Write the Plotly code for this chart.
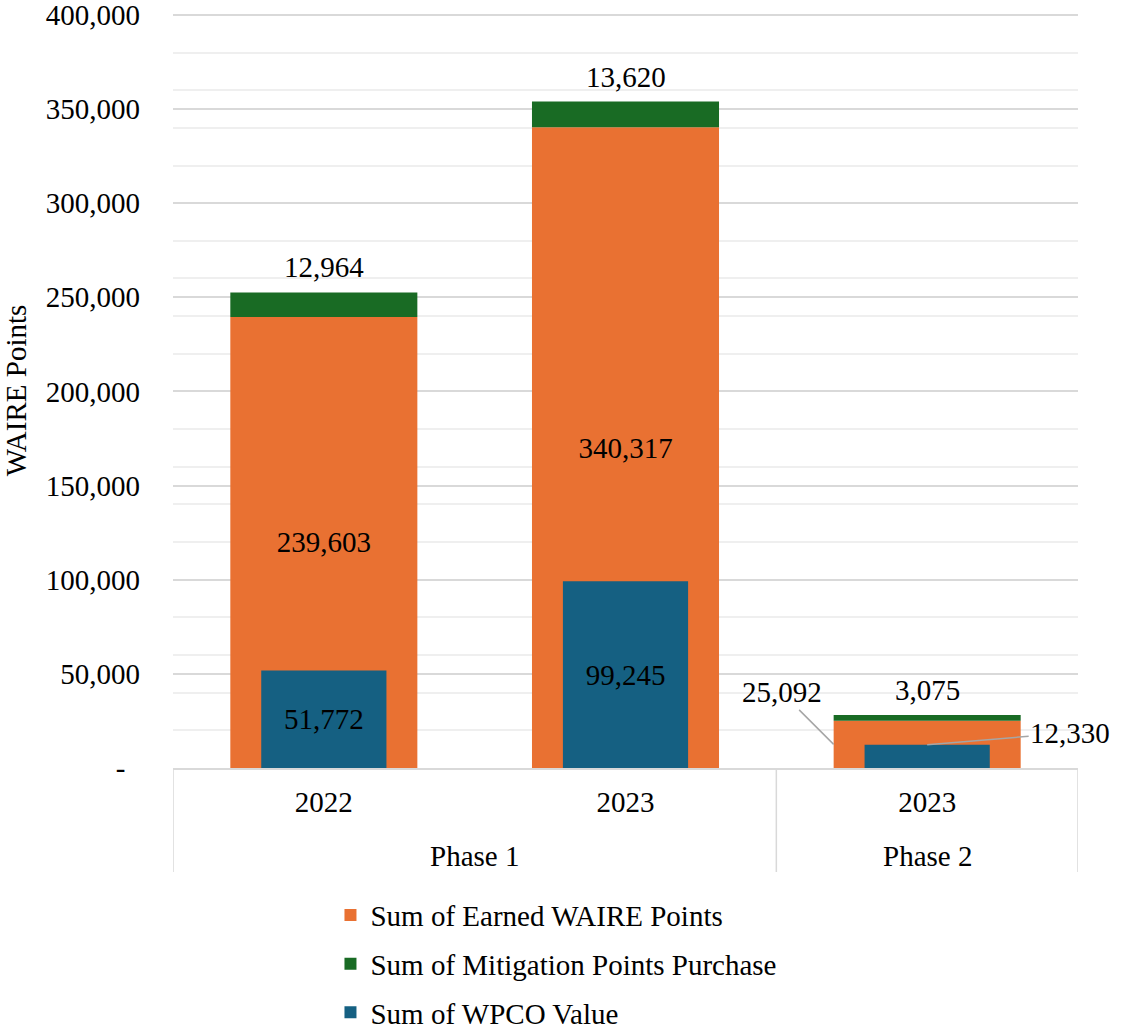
import plotly.graph_objects as go

phases = ["Phase 1", "Phase 1", "Phase 2"]
years = ["2022", "2023", "2023"]
earned = [239603, 340317, 25092]
mitigation = [12964, 13620, 3075]
wpco = [51772, 99245, 12330]
ytick_vals = [0, 50000, 100000, 150000, 200000, 250000, 300000, 350000, 400000]
ytick_text = ["-\u00a0\u00a0"] + [f"{v:,}" for v in ytick_vals[1:]]

ORANGE = "#E97132"
GREEN = "#196B24"
BLUE = "#156082"
GRID = "#D9D9D9"
FONT = "Liberation Serif"
FS = 29
BAR_W = 0.62
BLUE_W = 0.415

cats = [f"{p} | {y}" for p, y in zip(phases, years)]
n = len(cats)
TXT = dict(family=FONT, size=FS, color="black")

fig = go.Figure()
fig.add_trace(go.Bar(
    x=cats, y=earned, width=BAR_W, name="Sum of Earned WAIRE Points",
    marker=dict(color=ORANGE, line=dict(width=0)),
    text=[f"{v:,}" for v in earned[:2]] + [""],
    textposition="inside", insidetextanchor="middle",
    textfont=TXT, constraintext="none", legendgroup="a",
))
fig.add_trace(go.Bar(
    x=cats, y=mitigation, base=earned, width=BAR_W, name="Sum of Mitigation Points Purchase",
    marker=dict(color=GREEN, line=dict(width=0)),
    legendgroup="b",
))
fig.add_trace(go.Bar(
    x=cats, y=wpco, width=BLUE_W, name="Sum of WPCO Value",
    marker=dict(color=BLUE, line=dict(width=0)),
    text=[f"{v:,}" for v in wpco[:2]] + [""],
    textposition="inside", insidetextanchor="middle",
    textfont=TXT, constraintext="none", legendgroup="c",
))

# Labels above the stacked bars (mitigation values)
for i, (e, m) in enumerate(zip(earned, mitigation)):
    fig.add_annotation(
        x=i, y=e + m, xref="x", yref="y", text=f"{m:,}",
        showarrow=False, yanchor="middle", yshift=25, font=TXT,
    )

# Callout labels for the small Phase 2 bar
fig.add_annotation(
    x=(n - 1) - BAR_W / 2, y=earned[2] / 2, xref="x", yref="y",
    text=f"{earned[2]:,}", showarrow=True, arrowhead=0, arrowwidth=1.5,
    arrowcolor="#A6A6A6", ax=-52, ay=-52, font=TXT,
)
fig.add_annotation(
    x=n - 1, y=wpco[2], xref="x", yref="y",
    text=f"{wpco[2]:,}", showarrow=True, arrowhead=0, arrowwidth=1.5,
    arrowcolor="#A6A6A6", ax=143, ay=-12, font=TXT,
)

# Group (phase) labels and dividers on the category axis
DIV_DEPTH = 104 / 755
groups = []
for i, p in enumerate(phases):
    if not groups or groups[-1][0] != p:
        groups.append([p, i, i])
    else:
        groups[-1][2] = i
boundaries = [-0.5] + [g[2] + 0.5 for g in groups]
for g in groups:
    fig.add_annotation(
        x=(g[1] + g[2]) / 2, y=0, xref="x", yref="paper",
        text=g[0], showarrow=False, yanchor="middle", yshift=-88, font=TXT,
    )
for b in boundaries:
    fig.add_shape(
        type="line", xref="x", yref="paper", x0=b, x1=b, y0=0, y1=-DIV_DEPTH,
        line=dict(color=GRID, width=1.5),
    )

fig.update_layout(
    width=1127, height=1030,
    margin=dict(l=173, r=49, t=13, b=262),
    barmode="overlay",
    plot_bgcolor="white", paper_bgcolor="white",
    font=TXT,
    showlegend=True,
    legend=dict(
        orientation="v", x=0.174, xanchor="left", xref="paper",
        y=0.1363, yanchor="top", yref="container",
        font=TXT, tracegroupgap=8, bgcolor="rgba(0,0,0,0)",
    ),
    xaxis=dict(
        type="category", range=[-0.5, n - 0.5], automargin=False,
        tickvals=cats, ticktext=years,
        showline=True, linecolor=GRID, linewidth=1.5,
        ticks="", ticklabelstandoff=7,
        tickfont=TXT, showgrid=False,
    ),
    yaxis=dict(
        range=[0, 401000], automargin=False,
        tickvals=ytick_vals, ticktext=ytick_text,
        ticklabeloverflow="allow",
        showgrid=True, gridcolor=GRID, gridwidth=1.5,
        minor=dict(dtick=20000, showgrid=True, gridcolor="#EFEFEF", gridwidth=1.5),
        zeroline=False, showline=False,
        ticklabelstandoff=32,
        tickfont=TXT,
        title=dict(text="WAIRE Points", font=TXT, standoff=25),
    ),
)

fig.write_html(
    "out.html",
    config={"displayModeBar": False},
    post_script="document.body.style.margin='0px';",
)
